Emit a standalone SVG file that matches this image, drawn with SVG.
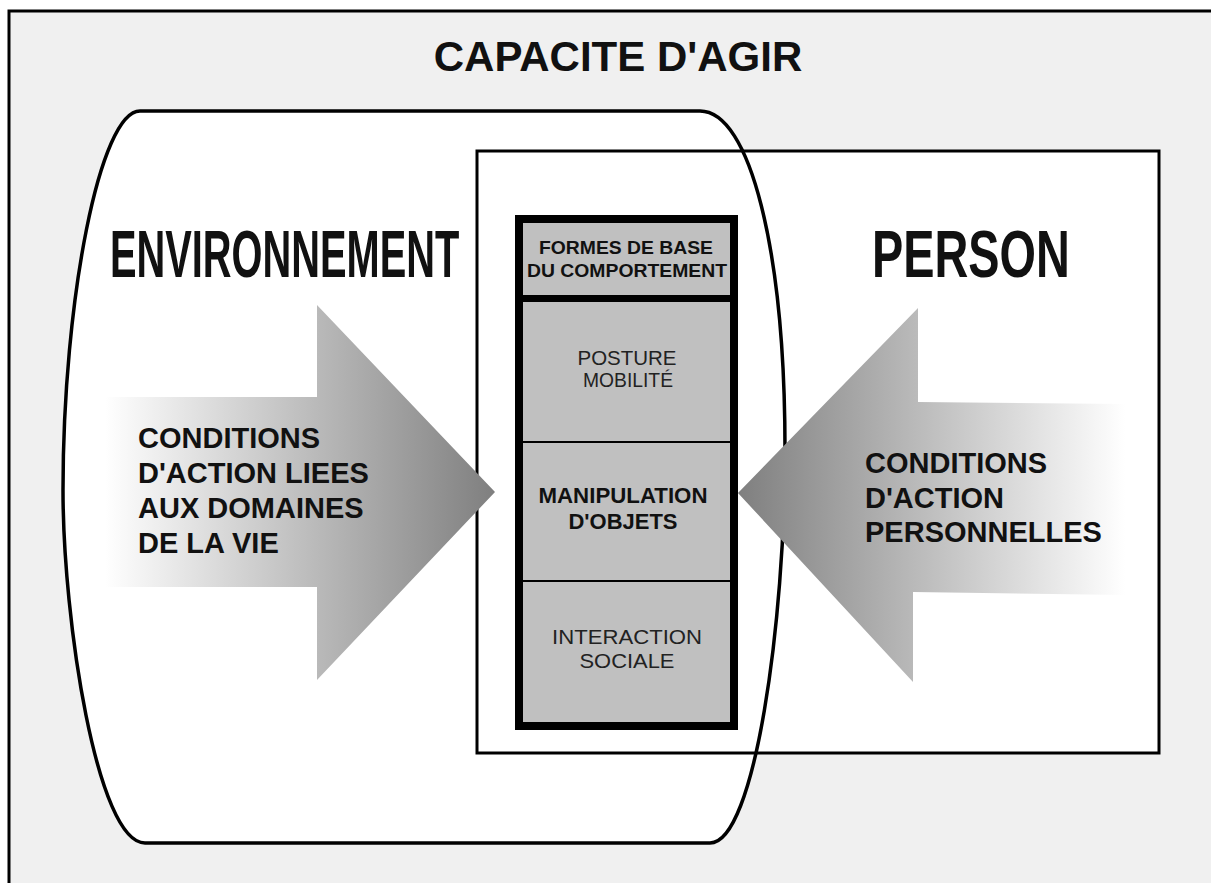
<svg xmlns="http://www.w3.org/2000/svg" width="1211" height="883" viewBox="0 0 1211 883">
<defs>
<style>
.b{font-family:"Liberation Sans",Arial,sans-serif;font-weight:bold;fill:#111}
.r{font-family:"Liberation Sans",Arial,sans-serif;font-weight:normal;fill:#222}
.line{stroke:#000;fill:none}
</style>
<linearGradient id="gL" gradientUnits="userSpaceOnUse" x1="105" y1="0" x2="495" y2="0">
<stop offset="0" stop-color="#ffffff"/>
<stop offset="1" stop-color="#7f7f7f"/>
</linearGradient>
<linearGradient id="gR" gradientUnits="userSpaceOnUse" x1="1125" y1="0" x2="738" y2="0">
<stop offset="0" stop-color="#ffffff"/>
<stop offset="1" stop-color="#7f7f7f"/>
</linearGradient>
</defs>
<rect width="1211" height="883" fill="#ffffff"/>
<g id="frame">
<rect x="9" y="11" width="1260" height="900" fill="#f0f0f0" stroke="#000" stroke-width="3"/>
<text class="b" x="618" y="71" font-size="42" text-anchor="middle">CAPACITE D'AGIR</text>
</g>
<g id="environnement">
<path id="envShape" d="M140,111 L700,111 C750,111 785,250 785,450 C785,620 755,843 710,843 L145,843 C97,843 63,620 63,490 C63,300 100,111 140,111 Z" fill="#ffffff"/>
</g>
<g id="person">
<rect x="477" y="151" width="682" height="602" fill="#ffffff" stroke="#000" stroke-width="3"/>
<text class="b" font-size="66" transform="translate(872,277) scale(0.71,1)">PERSON</text>
</g>
<g id="environnement-outline">
<path d="M140,111 L700,111 C750,111 785,250 785,450 C785,620 755,843 710,843 L145,843 C97,843 63,620 63,490 C63,300 100,111 140,111 Z" class="line" stroke-width="3.5"/>
<text class="b" font-size="66" transform="translate(110,277) scale(0.603,1)">ENVIRONNEMENT</text>
</g>
<g id="connectors">
<g id="arrow-env">
<polygon points="105,397 317,397 317,305 495,492 317,680 317,587 105,587" fill="url(#gL)"/>
<text class="b" font-size="29"><tspan x="138" y="448">CONDITIONS</tspan><tspan x="138" y="483">D'ACTION LIEES</tspan><tspan x="138" y="518">AUX DOMAINES</tspan><tspan x="138" y="553">DE LA VIE</tspan></text>
</g>
<g id="arrow-person">
<polygon points="1125,404 918,402 918,308 738,493 913,682 913,592 1125,595" fill="url(#gR)"/>
<text class="b" font-size="29"><tspan x="865" y="473">CONDITIONS</tspan><tspan x="865" y="508">D'ACTION</tspan><tspan x="865" y="542">PERSONNELLES</tspan></text>
</g>
</g>
<g id="comportement">
<rect x="519" y="219" width="215" height="507" fill="#c0c0c0" stroke="#000" stroke-width="8"/>
<line x1="519" y1="298.5" x2="734" y2="298.5" stroke="#000" stroke-width="7"/>
<line x1="519" y1="442" x2="734" y2="442" stroke="#000" stroke-width="2"/>
<line x1="519" y1="581" x2="734" y2="581" stroke="#000" stroke-width="2"/>
<g id="formes">
<text class="b" font-size="19" text-anchor="middle"><tspan x="626" y="254" textLength="174" lengthAdjust="spacingAndGlyphs">FORMES DE BASE</tspan><tspan x="627" y="277" textLength="200" lengthAdjust="spacingAndGlyphs">DU COMPORTEMENT</tspan></text>
</g>
<g id="posture">
<text class="r" font-size="21" text-anchor="middle"><tspan x="627" y="365" textLength="99" lengthAdjust="spacingAndGlyphs">POSTURE</tspan><tspan x="628" y="387" textLength="90" lengthAdjust="spacingAndGlyphs">MOBILITÉ</tspan></text>
</g>
<g id="manipulation">
<text class="b" font-size="22" text-anchor="middle"><tspan x="623" y="503" textLength="169" lengthAdjust="spacingAndGlyphs">MANIPULATION</tspan><tspan x="623" y="529" textLength="109" lengthAdjust="spacingAndGlyphs">D'OBJETS</tspan></text>
</g>
<g id="interaction">
<text class="r" font-size="21" text-anchor="middle"><tspan x="627" y="644" textLength="150" lengthAdjust="spacingAndGlyphs">INTERACTION</tspan><tspan x="627" y="668" textLength="95" lengthAdjust="spacingAndGlyphs">SOCIALE</tspan></text>
</g>
</g>
</svg>
